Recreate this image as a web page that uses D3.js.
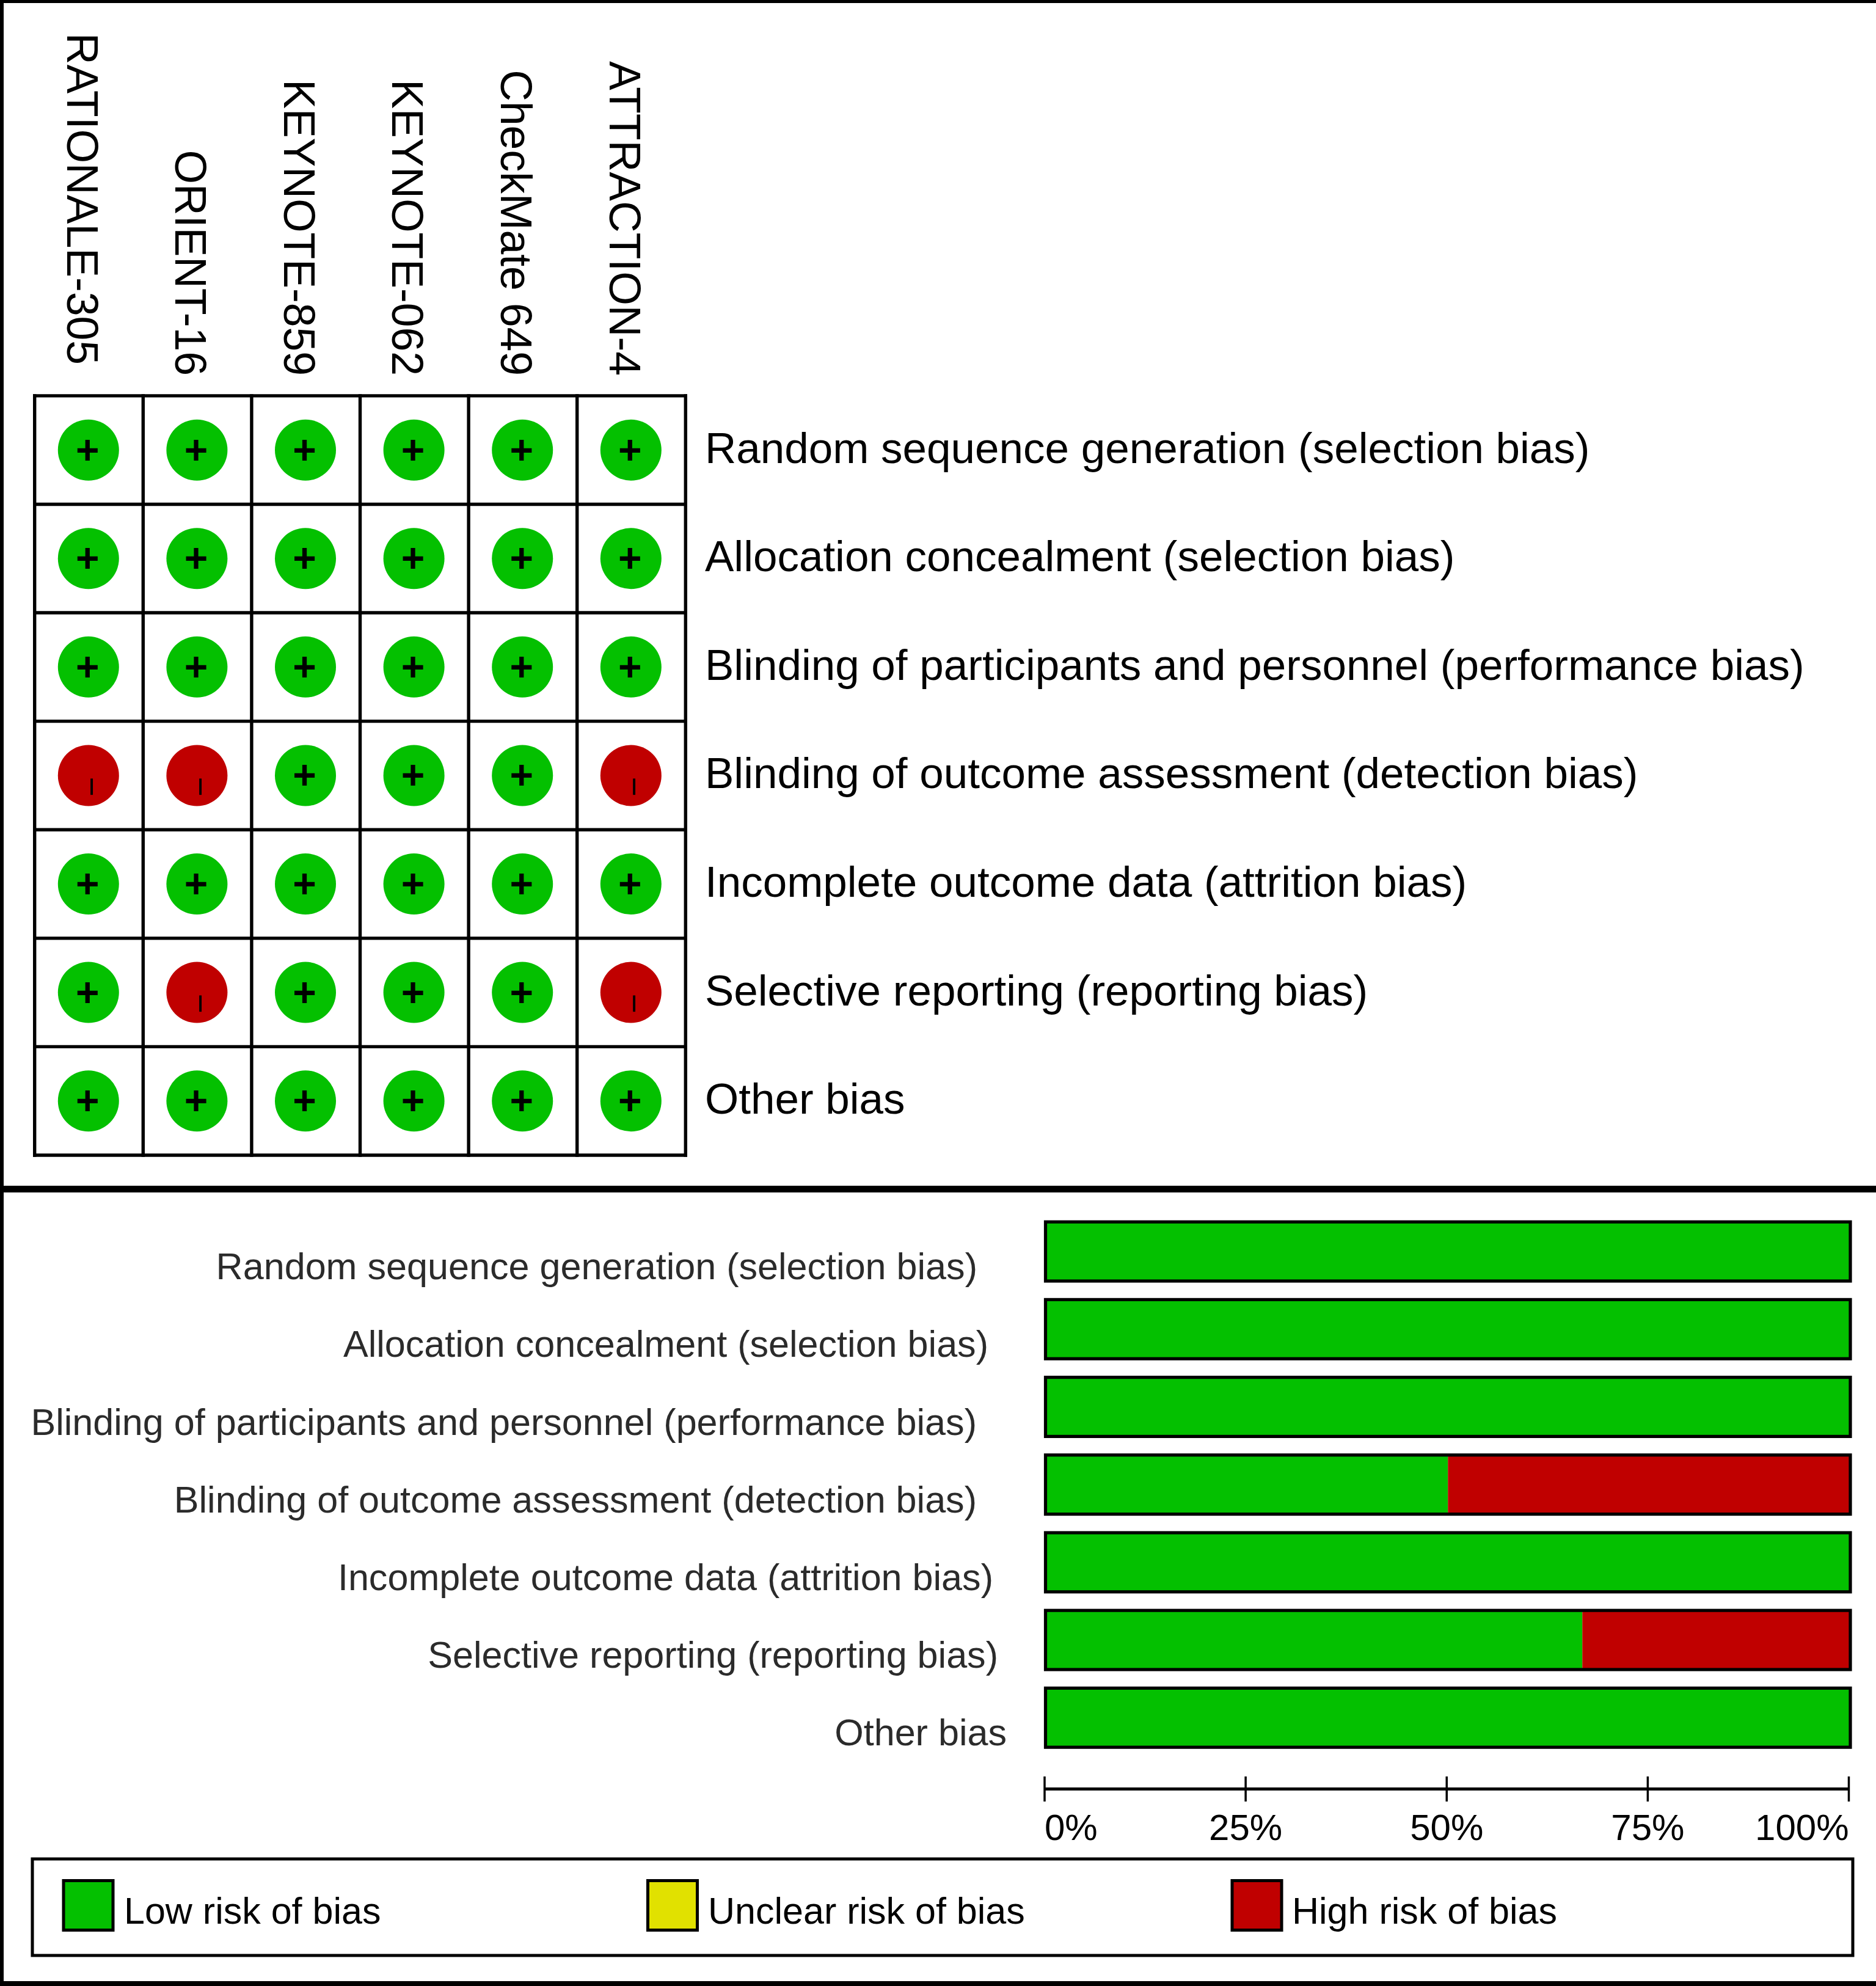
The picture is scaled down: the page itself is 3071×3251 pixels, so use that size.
<!DOCTYPE html>
<html>
<head>
<meta charset="utf-8">
<title>Risk of bias</title>
<script src="https://d3js.org/d3.v7.min.js"></script>
<style>
html, body { margin: 0; padding: 0; background: #fff; }
svg { display: block; }
text { font-family: "Liberation Sans", Arial, sans-serif; }
</style>
</head>
<body>
<div class="container"></div>
<script>
const WIDTH = 3071;
const HEIGHT = 3251;

// data
const studies = ["RATIONALE-305", "ORIENT-16", "KEYNOTE-859", "KEYNOTE-062", "CheckMate 649", "ATTRACTION-4"];
const domains = [
    "Random sequence generation (selection bias)",
    "Allocation concealment (selection bias)",
    "Blinding of participants and personnel (performance bias)",
    "Blinding of outcome assessment (detection bias)",
    "Incomplete outcome data (attrition bias)",
    "Selective reporting (reporting bias)",
    "Other bias"
];
// one string per domain, one sign per study
const judgements = ["++++++", "++++++", "++++++", "--+++-", "++++++", "+-+++-", "++++++"];
const lowValues = [100, 100, 100, 50, 100, 66.7, 100];
const unclearValues = [0, 0, 0, 0, 0, 0, 0];
const highValues = [0, 0, 0, 50, 0, 33.3, 0];
const tickValues = [0, 25, 50, 75, 100];
const legendLabels = ["Low risk of bias", "Unclear risk of bias", "High risk of bias"];

// layout
const COLOURS = { low: "#04c000", unclear: "#e1e100", high: "#c00000" };
const GRID_X = [56.7, 1122.3], GRID_Y = [647.9, 1891];
const BAR_X = [1711.5, 3029], BAR_TOP = 2000.2, BAR_STEP = 127.2, BAR_H = 96.8;
const AXIS_X = [1709.5, 3026], AXIS_Y = 2928;
const studyLabelEnds = [597, 615, 615, 615, 615, 615];
const barLabelEnds = [1600, 1618, 1599, 1599, 1626, 1634, 1648];
const legendSwatchX = [104, 1060.5, 2017];
const legendTextX = [203, 1159, 2115];

var svg = d3.select(".container").append("svg")
    .attr("width", WIDTH)
    .attr("height", HEIGHT);

// outer frame, there is none on the right
var frame = [[0, 0, WIDTH, 5], [0, 0, 6, HEIGHT], [0, 1941, WIDTH, 11], [0, 3243, WIDTH, 8]];
svg.append("g").selectAll("rect").data(frame).enter().append("rect")
    .attr("x", function(d) { return d[0]; })
    .attr("y", function(d) { return d[1]; })
    .attr("width", function(d) { return d[2]; })
    .attr("height", function(d) { return d[3]; })
    .attr("fill", "#000");

// top panel: summary grid
var xGrid = d3.scaleBand().domain(studies).range(GRID_X);
var yGrid = d3.scaleBand().domain(domains).range(GRID_Y);
var grid = svg.append("g");

grid.selectAll("line.v").data(d3.range(studies.length + 1)).enter().append("line")
    .attr("class", "v")
    .attr("x1", function(d) { return GRID_X[0] + d * xGrid.bandwidth(); })
    .attr("x2", function(d) { return GRID_X[0] + d * xGrid.bandwidth(); })
    .attr("y1", GRID_Y[0] - 2.7)
    .attr("y2", GRID_Y[1] + 2.7)
    .attr("stroke", "#000")
    .attr("stroke-width", 5.4);

grid.selectAll("line.h").data(d3.range(domains.length + 1)).enter().append("line")
    .attr("class", "h")
    .attr("x1", GRID_X[0] - 2.7)
    .attr("x2", GRID_X[1] + 2.7)
    .attr("y1", function(d) { return GRID_Y[0] + d * yGrid.bandwidth(); })
    .attr("y2", function(d) { return GRID_Y[0] + d * yGrid.bandwidth(); })
    .attr("stroke", "#000")
    .attr("stroke-width", 5.4);

grid.selectAll("text.study").data(studies).enter().append("text")
    .attr("class", "study")
    .attr("text-anchor", "end")
    .attr("font-size", 71.5)
    .attr("fill", "#000")
    .attr("transform", function(d, i) {
        return "translate(" + (xGrid(d) + xGrid.bandwidth() / 2 - 36) + "," + studyLabelEnds[i] + ") rotate(90)";
    })
    .text(function(d) { return d; });

grid.selectAll("text.domain").data(domains).enter().append("text")
    .attr("class", "domain")
    .attr("x", 1154)
    .attr("y", function(d) { return yGrid(d) + yGrid.bandwidth() / 2 + 21; })
    .attr("font-size", 71)
    .attr("fill", "#000")
    .text(function(d) { return d; });

var cells = [];
domains.forEach(function(domain, r) {
    studies.forEach(function(study, c) {
        cells.push({ study: study, domain: domain, sign: judgements[r][c] });
    });
});

var cell = grid.selectAll("g.cell").data(cells).enter().append("g")
    .attr("class", "cell")
    .attr("transform", function(d) {
        return "translate(" + (xGrid(d.study) + xGrid.bandwidth() / 2 - 0.7) + "," + (yGrid(d.domain) + yGrid.bandwidth() / 2) + ")";
    });

cell.append("circle")
    .attr("r", 50)
    .attr("fill", function(d) { return d.sign === "+" ? COLOURS.low : COLOURS.high; });

cell.filter(function(d) { return d.sign === "+"; }).append("text")
    .attr("x", -1.5)
    .attr("y", 22)
    .attr("text-anchor", "middle")
    .attr("font-size", 66)
    .attr("font-weight", "bold")
    .attr("fill", "#000")
    .text("+");

// the minus sign sits rotated in the original
cell.filter(function(d) { return d.sign === "-"; }).append("text")
    .attr("text-anchor", "middle")
    .attr("font-size", 55)
    .attr("fill", "#000")
    .attr("transform", "translate(-12.5,18) rotate(90)")
    .text("\u2212");

// bottom panel: stacked bars
var table = domains.map(function(d, i) {
    return { domain: d, low: lowValues[i], unclear: unclearValues[i], high: highValues[i] };
});
var series = d3.stack().keys(["low", "unclear", "high"])(table);
var xBar = d3.scaleLinear().domain([0, 100]).range(BAR_X);
var yBar = d3.scaleBand().domain(domains)
    .range([BAR_TOP, BAR_TOP + BAR_STEP * domains.length]);

var bars = svg.append("g");
bars.selectAll("g").data(series).enter().append("g")
    .attr("fill", function(s) { return COLOURS[s.key]; })
    .selectAll("rect").data(function(s) { return s; }).enter().append("rect")
    .attr("x", function(d) { return xBar(d[0]); })
    .attr("y", function(d) { return yBar(d.data.domain); })
    .attr("width", function(d) { return xBar(d[1]) - xBar(d[0]); })
    .attr("height", BAR_H);

bars.selectAll("rect.outline").data(domains).enter().append("rect")
    .attr("class", "outline")
    .attr("x", BAR_X[0])
    .attr("y", function(d) { return yBar(d); })
    .attr("width", BAR_X[1] - BAR_X[0])
    .attr("height", BAR_H)
    .attr("fill", "none")
    .attr("stroke", "#000")
    .attr("stroke-width", 5.2);

svg.append("g").selectAll("text").data(domains).enter().append("text")
    .attr("x", function(d, i) { return barLabelEnds[i]; })
    .attr("y", function(d) { return yBar(d) + 94; })
    .attr("text-anchor", "end")
    .attr("font-size", 61.1)
    .attr("fill", "#2b2b2b")
    .text(function(d) { return d; });

// percent axis
var xAxisScale = d3.scaleLinear().domain([0, 100]).range(AXIS_X);
var axis = svg.append("g")
    .attr("transform", "translate(0," + AXIS_Y + ")")
    .call(d3.axisBottom(xAxisScale)
        .tickValues(tickValues)
        .tickSize(21)
        .tickSizeOuter(0)
        .tickFormat(function(d) { return d + "%"; }));

axis.select(".domain").attr("stroke", "#000").attr("stroke-width", 5);
axis.selectAll(".tick line")
    .attr("y1", -20)
    .attr("stroke", "#000")
    .attr("stroke-width", 3.5);
axis.selectAll(".tick text")
    .attr("y", 84)
    .attr("dy", 0)
    .attr("font-size", 60)
    .attr("font-family", "Liberation Sans")
    .attr("fill", "#000")
    .attr("text-anchor", function(d) { return d === 0 ? "start" : (d === 100 ? "end" : "middle"); });

// legend
var legend = svg.append("g");
legend.append("rect")
    .attr("x", 53)
    .attr("y", 3043)
    .attr("width", 2980)
    .attr("height", 158)
    .attr("fill", "#fff")
    .attr("stroke", "#000")
    .attr("stroke-width", 5);

var legendColours = [COLOURS.low, COLOURS.unclear, COLOURS.high];
legend.selectAll("rect.swatch").data(legendLabels).enter().append("rect")
    .attr("class", "swatch")
    .attr("x", function(d, i) { return legendSwatchX[i]; })
    .attr("y", 3078.5)
    .attr("width", 81)
    .attr("height", 81)
    .attr("fill", function(d, i) { return legendColours[i]; })
    .attr("stroke", "#000")
    .attr("stroke-width", 5);

legend.selectAll("text").data(legendLabels).enter().append("text")
    .attr("x", function(d, i) { return legendTextX[i]; })
    .attr("y", 3149)
    .attr("font-size", 61)
    .attr("fill", "#000")
    .text(function(d) { return d; });
</script>
</body>
</html>
